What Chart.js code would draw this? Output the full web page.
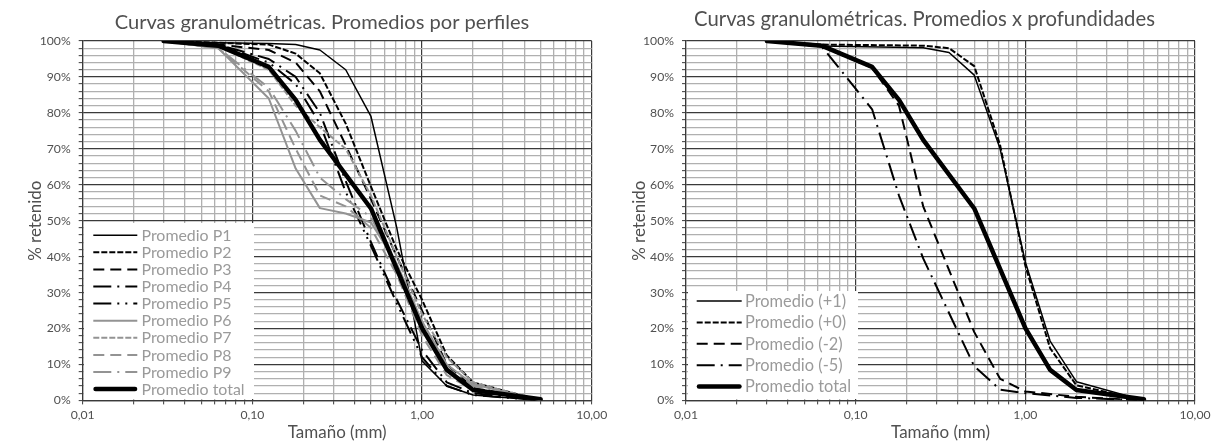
<!DOCTYPE html>
<html><head><meta charset="utf-8">
<script src="https://cdn.jsdelivr.net/npm/chart.js@4.4.1/dist/chart.umd.min.js"></script>
<style>
html,body{margin:0;padding:0;background:#fff;}
body{width:1229px;height:443px;position:relative;overflow:hidden;}
.w{position:absolute;top:0;height:443px;}
#w1{left:0;width:646px;}
#w2{left:620px;width:609px;}
canvas{display:block;}
</style></head><body>
<div id="w1" class="w"><canvas id="c1" width="646" height="443"></canvas></div>
<div id="w2" class="w"><canvas id="c2" width="609" height="443"></canvas></div>
<script>
// ---------- DATA ----------
const SIEVES = [0.03, 0.063, 0.125, 0.18, 0.25, 0.355, 0.5, 0.71, 1.0, 1.4, 2.0, 5.0];

const P1 = [100, 99.5, 99.3, 99.0, 97.5, 92.0, 79.0, 48.0, 11.0, 4.0, 1.5, 0];
const P2 = [100, 99.5, 99.0, 96.5, 91.0, 77.0, 59.5, 42.0, 28.0, 12.5, 5.0, 0];
const P3 = [100, 99.0, 97.5, 94.0, 86.0, 71.0, 56.0, 40.0, 25.0, 10.0, 3.5, 0];
const P4 = [100, 99.0, 95.0, 90.0, 80.0, 61.0, 44.0, 28.0, 14.0, 5.0, 2.0, 0];
const P5 = [100, 99.0, 94.0, 88.0, 77.0, 58.0, 43.0, 27.0, 12.0, 4.0, 1.5, 0];
const P6 = [100, 98.0, 84.0, 64.5, 53.5, 52.0, 49.5, 38.0, 22.0, 10.0, 4.5, 0];
const P7 = [100, 98.5, 92.0, 82.0, 76.0, 70.0, 57.0, 40.0, 24.0, 12.0, 5.0, 0];
const P8 = [100, 98.0, 86.0, 70.0, 57.0, 54.0, 48.0, 35.0, 18.0, 7.0, 3.0, 0];
const P9 = [100, 98.0, 87.0, 75.0, 62.0, 56.0, 51.0, 37.0, 21.0, 9.0, 4.0, 0];
const TOTAL = [100, 98.7, 92.8, 83.6, 72.5, null, 53.4, null, 20.1, 8.5, 2.9, 0.3];

const D_PLUS1  = [100, 98.6, null, null, 98.1, 96.8, 90.5, 70.0, 38.5, 16.5, 5.2, 0];
const D_PLUS0  = [100, 99.0, null, null, 98.7, 98.0, 93.0, 71.0, 37.5, 14.5, 4.2, 0];
const D_MINUS2 = [100, 98.5, 92.5, 82.0, 54.0, null, 19.0, 6.0, 2.5, null, 1.0, 0];
const D_MINUS5 = [100, 98.5, 81.0, 57.0, 39.5, null, 9.5, 3.0, 2.0, null, 0.7, 0];

const LEFT_LABELS  = ['Promedio P1','Promedio P2','Promedio P3','Promedio P4','Promedio P5',
                      'Promedio P6','Promedio P7','Promedio P8','Promedio P9','Promedio total'];
const RIGHT_LABELS = ['Promedio (+1)','Promedio (+0)','Promedio (-2)','Promedio (-5)','Promedio total'];

const X_DECADES = [0.01, 0.1, 1, 10];
const X_DECADE_LABELS = ['0,01', '0,10', '1,00', '10,00'];
const Y_STEP_MINOR = 2, Y_STEP_MAJOR = 10;

const TITLE_LEFT = 'Curvas granulométricas. Promedios por perfiles';
const TITLE_RIGHT = 'Curvas granulométricas. Promedios x profundidades';
const X_TITLE = 'Tamaño (mm)';
const Y_TITLE = '% retenido';

// ---------- STYLE ----------
const FONT = 'Lato, "DejaVu Sans", sans-serif';
const TEXT = '#505050', LEGTEXT = '#9a9a9a', MAJOR = '#3a3a3a', MINOR = '#b0b0b0', GRAY = '#939393';
function fitSize(text, width) {
  const c = document.createElement('canvas').getContext('2d');
  c.font = '100px ' + FONT;
  return 100 * width / c.measureText(text).width;
}
const S_TICK = fitSize('100%', 31);
const S_AXT = fitSize(X_TITLE, 99);
const S_LEG_L = (fitSize('Promedio total', 105) + fitSize('Promedio P1', 88.3)) / 2;
const S_LEG_R = (fitSize('Promedio total', 106.7) + fitSize('Promedio (+1)', 100.7)) / 2;

const BLACK = '#000';
const LEFT_STYLES = [
  {c: BLACK, w: 1.5, d: []},
  {c: BLACK, w: 2, d: [6, 2]},
  {c: BLACK, w: 2, d: [11, 6]},
  {c: BLACK, w: 2, d: [18, 6, 2, 6]},
  {c: BLACK, w: 2, d: [18, 6, 2, 6, 2, 6]},
  {c: GRAY, w: 2, d: []},
  {c: GRAY, w: 2, d: [6, 2]},
  {c: GRAY, w: 2, d: [11, 6]},
  {c: GRAY, w: 2, d: [18, 6, 2, 6]},
  {c: BLACK, w: 4.5, d: [], cap: 'round'}
];
const RIGHT_STYLES = [
  {c: BLACK, w: 1.5, d: []},
  {c: BLACK, w: 2, d: [6, 2]},
  {c: BLACK, w: 2, d: [11, 6]},
  {c: BLACK, w: 2, d: [18, 6, 2, 6]},
  {c: BLACK, w: 4.5, d: [], cap: 'round'}
];

function pts(xs, ys) {
  const out = [];
  xs.forEach((x, i) => { if (ys[i] !== null && ys[i] !== undefined) out.push({x: x, y: ys[i]}); });
  return out;
}
function makeDatasets(series, labels, styles) {
  return series.map((ys, i) => ({
    label: labels[i],
    data: pts(SIEVES, ys),
    borderColor: styles[i].c,
    borderWidth: styles[i].w,
    borderDash: styles[i].d,
    borderCapStyle: styles[i].cap || 'butt',
    borderJoinStyle: 'round',
    legendCap: styles[i].cap || 'butt',
    pointRadius: 0,
    fill: false,
    tension: 0,
    order: series.length - i
  }));
}

const X_GRID = [];
for (let e = -2; e <= 0; e++) for (let m = 1; m <= 9; m++) X_GRID.push(+(m * Math.pow(10, e)).toPrecision(3));
X_GRID.push(10);
const Y_GRID = [];
for (let v = 0; v <= 100; v += Y_STEP_MINOR) Y_GRID.push(v);

function isDecade(v) { return X_DECADES.some(d => Math.abs(d - v) < 1e-9); }
function decadeLabel(v) { const i = X_DECADES.findIndex(d => Math.abs(d - v) < 1e-9); return i >= 0 ? X_DECADE_LABELS[i] : ''; }

const boxLegend = {
  id: 'boxLegend',
  afterLayout(chart) {
    const o = chart.options.plugins.boxLegend;
    if (o && chart.titleBlock && o.titleX !== undefined) {
      chart.titleBlock.left = o.titleX - 300;
      chart.titleBlock.right = o.titleX + 300;
    }
  },
  afterDatasetsDraw(chart) {
    const o = chart.options.plugins.boxLegend;
    if (!o) return;
    const ctx = chart.ctx;
    ctx.save();
    ctx.fillStyle = '#fff';
    ctx.fillRect(o.x, o.y, o.w, o.h);
    chart.data.datasets.forEach((ds, i) => {
      const cy = o.firstY + i * o.step;
      ctx.beginPath();
      ctx.setLineDash(ds.borderDash || []);
      ctx.lineWidth = ds.borderWidth;
      ctx.strokeStyle = ds.borderColor;
      ctx.lineCap = ds.legendCap;
      const inset = ds.legendCap === 'round' ? ds.borderWidth / 2 : 0;
      ctx.moveTo(o.lx0 + inset, cy); ctx.lineTo(o.lx1 - inset, cy);
      ctx.stroke();
      ctx.setLineDash([]);
      ctx.fillStyle = LEGTEXT;
      ctx.font = o.size.toFixed(2) + 'px ' + FONT;
      ctx.textBaseline = 'middle';
      ctx.textAlign = 'left';
      ctx.fillText(ds.label, o.tx, cy + 0.5);
    });
    ctx.restore();
  }
};

function makeChart(id, cfg) {
  const titleSize = fitSize(cfg.title, cfg.titleWidth);
  const tLH = titleSize * 1.2;
  const padTop = cfg.titleCenter - tLH / 2;
  const padBottom = cfg.areaTop - tLH - padTop;
  return new Chart(document.getElementById(id), {
    type: 'line',
    data: {datasets: cfg.datasets},
    options: {
      responsive: false, animation: false, events: [],
      layout: {padding: {left: 0, right: cfg.padRight, top: 0, bottom: 0}},
      plugins: {
        legend: {display: false},
        tooltip: {enabled: false},
        title: {display: true, text: cfg.title, color: TEXT,
          font: {family: FONT, size: titleSize, weight: 'normal'},
          padding: {top: padTop, bottom: padBottom}},
        boxLegend: cfg.legend
      },
      scales: {
        x: {
          type: 'logarithmic', min: 0.01, max: 10,
          afterBuildTicks: s => { s.ticks = X_GRID.map(v => ({value: v, major: isDecade(v)})); },
          afterFit: s => { s.height = 443 - cfg.areaBottom; },
          ticks: {autoSkip: false, maxRotation: 0, minRotation: 0, color: TEXT, padding: 3,
            font: {family: FONT, size: S_TICK}, callback: v => decadeLabel(v)},
          grid: {color: c => isDecade(c.tick.value) ? MAJOR : MINOR,
            lineWidth: c => isDecade(c.tick.value) ? 1.2 : 1.3,
            tickLength: 4, tickColor: MAJOR, tickWidth: 1},
          border: {display: true, color: MAJOR, width: 1.2},
          title: {display: true, text: X_TITLE, color: TEXT,
            font: {family: FONT, size: S_AXT}, padding: {top: 0, bottom: 0}}
        },
        y: {
          type: 'linear', min: 0, max: 100,
          afterBuildTicks: s => { s.ticks = Y_GRID.map(v => ({value: v})); },
          afterFit: s => { s.width = cfg.areaLeft; },
          ticks: {autoSkip: false, color: TEXT, padding: 8,
            font: {family: FONT, size: S_TICK},
            callback: v => (Math.round(v) % Y_STEP_MAJOR === 0 ? Math.round(v) + '%' : '')},
          grid: {color: c => (Math.round(c.tick.value) % Y_STEP_MAJOR === 0 ? MAJOR : MINOR),
            lineWidth: c => (Math.round(c.tick.value) % Y_STEP_MAJOR === 0 ? 1.2 : 1.3),
            tickLength: 4, tickColor: MAJOR, tickWidth: 1},
          border: {display: true, color: MAJOR, width: 1.2},
          title: {display: true, text: Y_TITLE, color: TEXT,
            font: {family: FONT, size: S_AXT}, padding: {top: cfg.yTitleCenter - S_AXT * 0.6, bottom: 0}}
        }
      }
    },
    plugins: [boxLegend]
  });
}

makeChart('c1', {
  datasets: makeDatasets([P1, P2, P3, P4, P5, P6, P7, P8, P9, TOTAL], LEFT_LABELS, LEFT_STYLES),
  title: TITLE_LEFT, titleWidth: 415, titleCenter: 22.5,
  areaTop: 41, areaBottom: 400.4, areaLeft: 82.7, padRight: 646 - 591.7,
  yTitleCenter: 36,
  legend: {titleX: 322, size: S_LEG_L, x: 84, y: 223, w: 170, h: 176, firstY: 235.2, step: 17.1, lx0: 93.3, lx1: 137.3, tx: 141.5}
});

makeChart('c2', {
  datasets: makeDatasets([D_PLUS1, D_PLUS0, D_MINUS2, D_MINUS5, TOTAL], RIGHT_LABELS, RIGHT_STYLES),
  title: TITLE_RIGHT, titleWidth: 461, titleCenter: 19.5,
  areaTop: 41, areaBottom: 400.4, areaLeft: 66, padRight: 609 - 575,
  yTitleCenter: 19.5,
  legend: {titleX: 304.5, size: S_LEG_R, x: 68, y: 291, w: 170, h: 108, firstY: 301, step: 21.4, lx0: 76.7, lx1: 121.7, tx: 125}
});
</script>
</body></html>
